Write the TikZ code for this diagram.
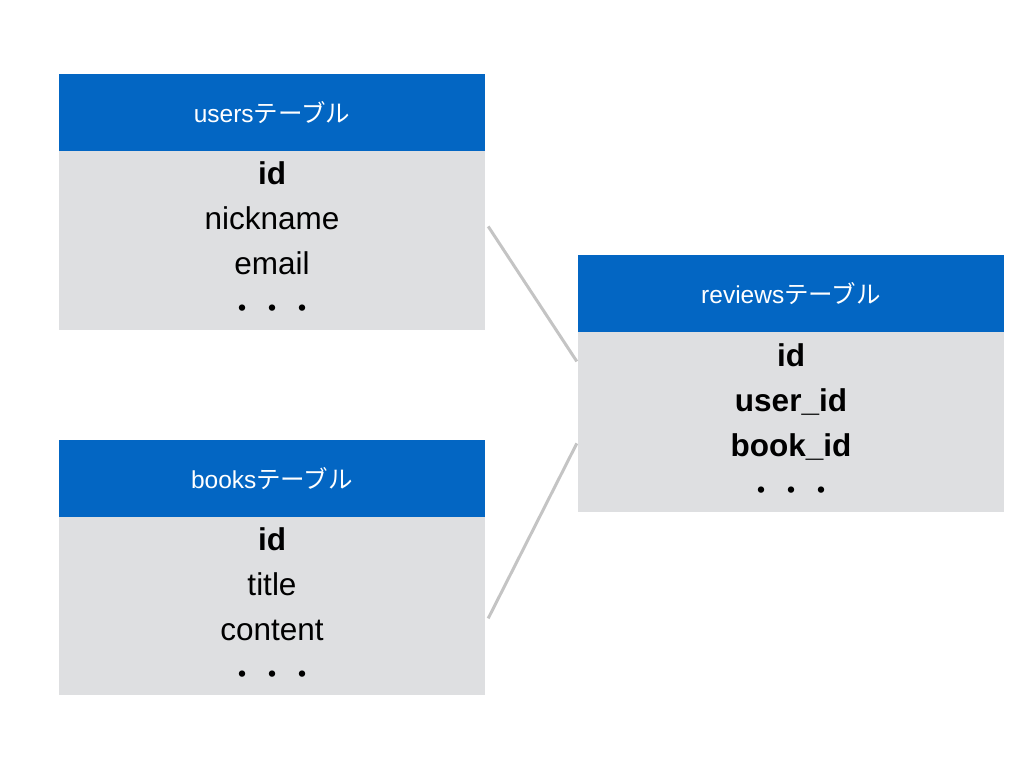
\documentclass[tikz,border=0pt]{standalone}
\usepackage{fontspec}
\setmainfont{Liberation Sans}
\newfontfamily\cjk{Noto Sans CJK JP}
\usepackage{tikz}
\usetikzlibrary{positioning}
\usepackage{xcolor}
\definecolor{headblue}{HTML}{0366C3}
\definecolor{bodygray}{HTML}{DEDFE1}
\definecolor{linkgray}{HTML}{C4C4C4}
\newcommand{\tbl}{{\cjk テーブル}}
\newcommand{\etc}{{\cjk\fontsize{30}{45}\selectfont ・・・}}

\begin{document}
\begin{tikzpicture}[x=1pt, y=-1pt, node distance=0pt,
    head/.style={rectangle, fill=headblue, text=white, minimum width=426pt, minimum height=77pt, inner sep=0pt, font=\fontsize{24.5}{28}\selectfont},
    body/.style={rectangle, fill=bodygray, minimum width=426pt, inner sep=0pt, align=center, font=\fontsize{31.5}{45}\selectfont},
    link/.style={draw=linkgray, line width=3pt}]
    \useasboundingbox (0,0) rectangle (1024,768);
    \node[head] (U) at (272,112.5) {users\tbl};
    \node[body, minimum height=179pt, below=of U] (UB) {\textbf{id}\\nickname\\email\\\etc};
    \node[head] (B) at (272,478.5) {books\tbl};
    \node[body, minimum height=178pt, below=of B] (BB) {\textbf{id}\\title\\content\\\etc};
    \node[head] (R) at (791,293.5) {reviews\tbl};
    \node[body, minimum height=180pt, below=of R] (RB) {\textbf{id}\\\textbf{user\_id}\\\textbf{book\_id}\\\etc};
    \draw[link] ([xshift=3pt,yshift=14.5pt]UB.east) -- ([xshift=-1pt,yshift=61pt]RB.west);
    \draw[link] ([xshift=3pt,yshift=-12pt]BB.east) -- ([xshift=-1pt,yshift=-21pt]RB.west);
\end{tikzpicture}
\end{document}
